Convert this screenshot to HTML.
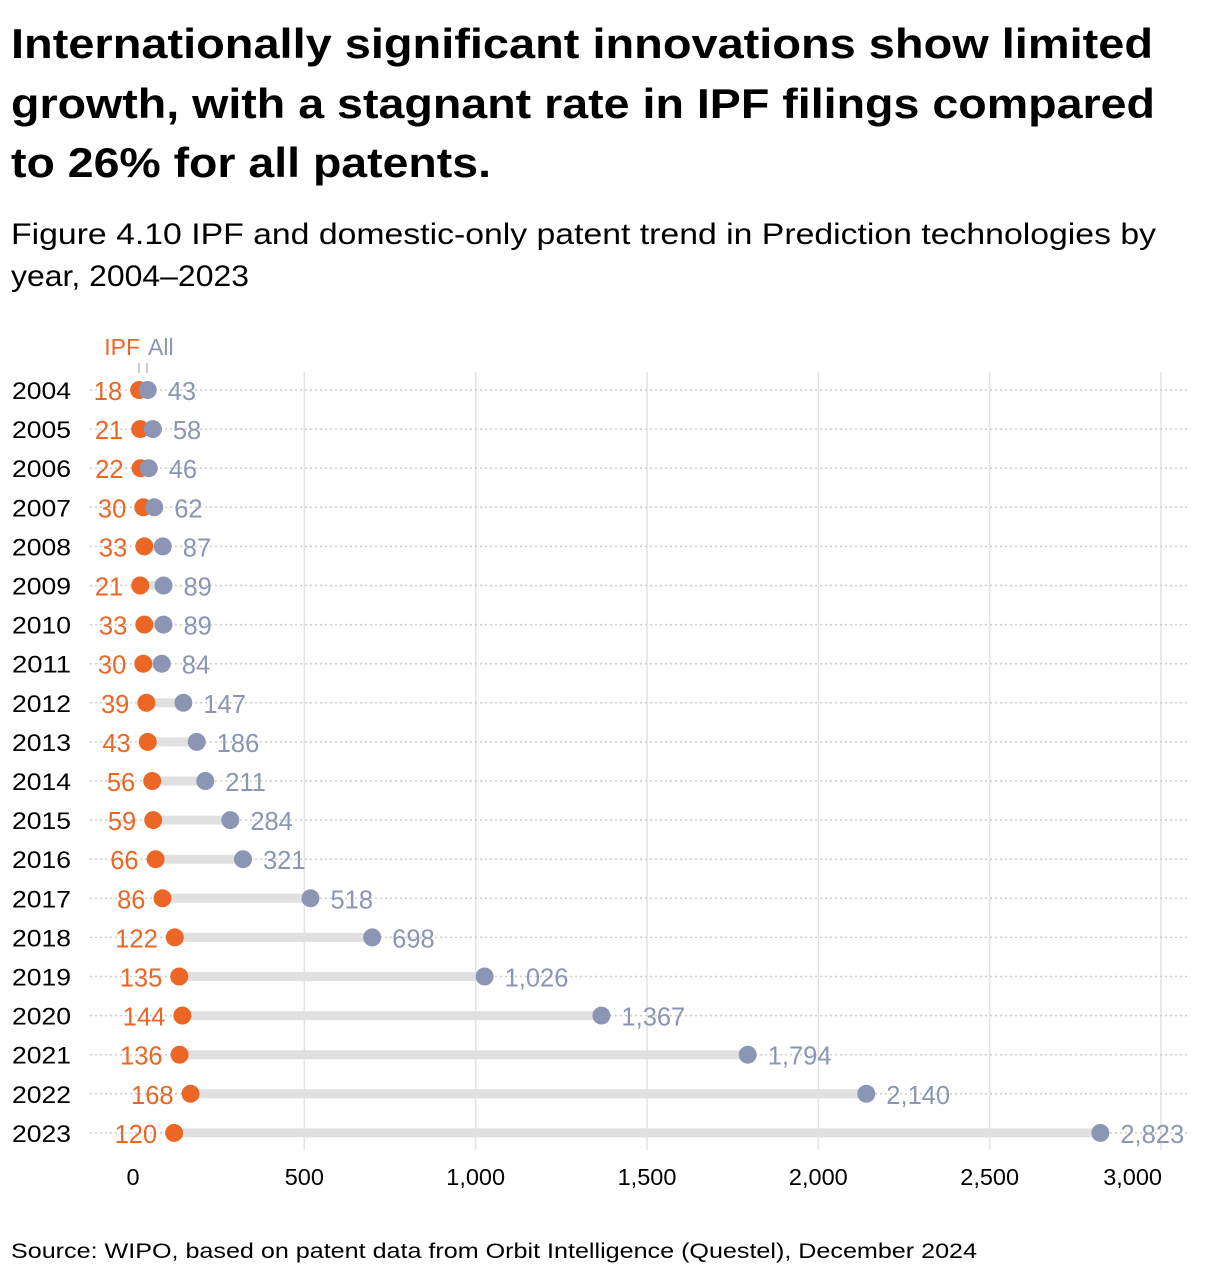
<!DOCTYPE html>
<html><head><meta charset="utf-8"><style>
body{margin:0;background:#fff;font-family:"Liberation Sans","DejaVu Sans",sans-serif;}
</style></head><body>
<svg id="c" width="1220" height="1278" xmlns="http://www.w3.org/2000/svg" font-family="'Liberation Sans','DejaVu Sans',sans-serif">
<text font-weight="bold" font-size="42" fill="#000"><tspan x="11" y="58" textLength="1142" lengthAdjust="spacingAndGlyphs">Internationally significant innovations show limited</tspan><tspan x="11" y="118" textLength="1144" lengthAdjust="spacingAndGlyphs">growth, with a stagnant rate in IPF filings compared</tspan><tspan x="11" y="177" textLength="480" lengthAdjust="spacingAndGlyphs">to 26% for all patents.</tspan></text>
<text font-size="30" fill="#000"><tspan x="11" y="244" textLength="1145" lengthAdjust="spacingAndGlyphs">Figure 4.10 IPF and domestic-only patent trend in Prediction technologies by</tspan><tspan x="11" y="286" textLength="238" lengthAdjust="spacingAndGlyphs">year, 2004–2023</tspan></text>
<text x="140" y="355" font-size="23" fill="#ec6625" text-anchor="end">IPF</text>
<text x="148" y="355" font-size="23" fill="#8c96b4">All</text>
<line x1="139" y1="363" x2="139" y2="373" stroke="#999" stroke-width="1"/>
<line x1="147" y1="363" x2="147" y2="373" stroke="#999" stroke-width="1"/>
<g id="grid"></g><g id="rows"></g><g id="xaxis"></g>
<text x="11" y="1258" font-size="21" fill="#000" textLength="966" lengthAdjust="spacingAndGlyphs">Source: WIPO, based on patent data from Orbit Intelligence (Questel), December 2024</text>
</svg>
<script>
const years=[2004,2005,2006,2007,2008,2009,2010,2011,2012,2013,2014,2015,2016,2017,2018,2019,2020,2021,2022,2023];
const ipf=[18,21,22,30,33,21,33,30,39,43,56,59,66,86,122,135,144,136,168,120];
const all=[43,58,46,62,87,89,89,84,147,186,211,284,321,518,698,1026,1367,1794,2140,2823];
const ticks=[0,500,1000,1500,2000,2500,3000];
const NS='http://www.w3.org/2000/svg';
const x=v=>133+v*1028/3000;
const y=i=>390+i*39.1;
function mk(t,a,p){const e=document.createElementNS(NS,t);for(const k in a)e.setAttribute(k,a[k]);p.appendChild(e);return e;}
const fmt=v=>v.toLocaleString('en-US');
const grid=document.getElementById('grid'),rows=document.getElementById('rows'),xa=document.getElementById('xaxis');
ticks.forEach((t,i)=>{
 if(t>0){const g=mk('line',{x1:x(t),x2:x(t),y1:372,y2:1150,stroke:'#e3e3e3','stroke-width':1.5},grid);
 
 }
 const l=mk('text',{x:i==ticks.length-1?x(t)+1:x(t),y:1185,'font-size':23.5,fill:'#000','text-anchor':i==ticks.length-1?'end':'middle'},xa);
 l.textContent=fmt(t);
 
 
});
years.forEach((yr,i)=>{
 const yy=y(i);
 const d=mk('line',{x1:90,x2:1190,y1:yy,y2:yy,stroke:'#ccc','stroke-width':1.5,'stroke-dasharray':'2,3'},grid);
 
 
 const yl=mk('text',{x:12,y:yy+9,'font-size':24,fill:'#000',textLength:59,lengthAdjust:'spacingAndGlyphs'},rows);yl.textContent=yr;
 
 
 const b=mk('line',{x1:x(ipf[i]),x2:x(all[i]),y1:yy,y2:yy,stroke:'#e0e0e0','stroke-width':9},rows);
 
 
 const c1=mk('circle',{cx:x(ipf[i]),cy:yy,r:9,fill:'#ec6625'},rows);
 
 
 const c2=mk('circle',{cx:x(all[i]),cy:yy,r:9,fill:'#8c96b4'},rows);
 
 
 const t1=mk('text',{x:x(ipf[i])-17,y:yy+10,'font-size':25.5,fill:'#ec6625','text-anchor':'end'},rows);t1.textContent=fmt(ipf[i]);
 
 
 const t2=mk('text',{x:x(all[i])+20,y:yy+10,'font-size':25.5,fill:'#8c96b4'},rows);t2.textContent=fmt(all[i]);
 
 
});
</script>
</body></html>
